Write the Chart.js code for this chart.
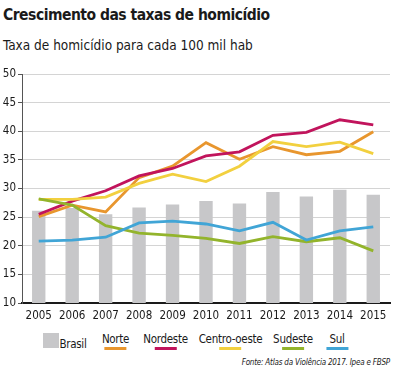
<!DOCTYPE html>
<html><head><meta charset="utf-8">
<script src="https://cdn.jsdelivr.net/npm/chart.js@4.4.1/dist/chart.umd.min.js"></script>
<style>
html,body{margin:0;padding:0;background:#fff;width:406px;height:378px;overflow:hidden;position:relative;font-family:'DejaVu Sans Condensed','Liberation Sans Narrow','Roboto',sans-serif;color:#1a1a1a}
#title{position:absolute;left:3px;top:6px;font-size:15.5px;font-weight:bold;letter-spacing:-0.5px;white-space:nowrap}
#sub{position:absolute;left:3px;top:37px;font-size:13.5px;white-space:nowrap}
#wrap{position:absolute;left:0;top:60px;width:406px;height:268px}
#legend{position:absolute;left:0;top:330px;width:406px;height:26px}
.lg{position:absolute;font-size:11.5px;top:2px;white-space:nowrap;transform:translateX(-50%);letter-spacing:-0.3px}
.lg .bar{position:absolute;left:50%;margin-left:-11px;top:15px;height:3px;width:22px}
.sq{position:absolute;width:16px;height:15px;background:#c7c7c9;top:3px}
#src{position:absolute;right:16px;top:358px;font-size:8px;font-style:italic;letter-spacing:-0.2px;white-space:nowrap}
</style></head><body>
<div id="title">Crescimento das taxas de homicídio</div>
<div id="sub">Taxa de homicídio para cada 100 mil hab</div>
<div id="wrap"><canvas id="c"></canvas></div>
<div id="legend"></div>
<div id="src">Fonte: Atlas da Violência 2017. Ipea e FBSP</div>
<script>
const years = ['2005','2006','2007','2008','2009','2010','2011','2012','2013','2014','2015'];
const brasil = [26.1,26.6,25.5,26.7,27.2,27.8,27.4,29.4,28.6,29.8,28.9];
const norte = [25.1,27.1,25.9,31.9,33.9,38.0,35.1,37.3,35.9,36.5,39.9];
const nordeste = [25.5,27.8,29.6,32.2,33.5,35.7,36.4,39.3,39.8,42.0,41.1];
const centroOeste = [28.1,28.1,28.5,30.9,32.5,31.2,33.9,38.2,37.3,38.1,36.1];
const sudeste = [28.2,27.1,23.5,22.2,21.8,21.3,20.4,21.6,20.7,21.4,19.1];
const sul = [20.8,21.0,21.5,24.0,24.3,23.8,22.6,24.1,21.0,22.6,23.3];
const yTicks = [10,15,20,25,30,35,40,45,50];

const lineSeries = [
  {label:'Norte', data:norte, color:'#e8962e'},
  {label:'Nordeste', data:nordeste, color:'#c1145c'},
  {label:'Centro-oeste', data:centroOeste, color:'#f2d03f'},
  {label:'Sudeste', data:sudeste, color:'#93b42c'},
  {label:'Sul', data:sul, color:'#41a5d6'}
];
const legendCenters = [115.5,165.5,230.5,293,337];

const datasets = [{type:'bar',label:'Brasil',data:brasil,backgroundColor:'#c7c7c9',barPercentage:0.4,categoryPercentage:1,order:10}];
lineSeries.forEach((s,i)=>datasets.push({type:'line',label:s.label,data:s.data,borderColor:s.color,backgroundColor:s.color,borderWidth:2.8,pointRadius:0,tension:0,order:5-i}));

const font = {family:"'DejaVu Sans Condensed','Liberation Sans Narrow',sans-serif", size:11.5};
new Chart(document.getElementById('c'),{
  type:'bar',
  data:{labels:years,datasets},
  options:{
    responsive:true,maintainAspectRatio:false,animation:false,
    layout:{padding:{top:14,right:16,left:0,bottom:0}},
    plugins:{legend:{display:false},tooltip:{enabled:false}},
    scales:{
      x:{grid:{display:false,drawTicks:false},border:{color:'#1a1a1a',width:2},
         ticks:{color:'#1a1a1a',font,padding:6,maxRotation:0,autoSkip:false},
         afterFit:s=>{s.height=25;}},
      y:{min:10,max:50,
         afterBuildTicks:s=>{s.ticks=yTicks.map(v=>({value:v}));},
         grid:{color:'#d4d4d4',tickColor:'#555',tickLength:4,lineWidth:1},
         border:{color:'#555',width:1},
         ticks:{color:'#1a1a1a',font,padding:2},
         afterFit:s=>{s.width=22;}}
    }
  }
});

const lg = document.getElementById('legend');
let html = '<div class="sq" style="left:43px"></div><div class="lg" style="left:73px;top:7px">Brasil</div>';
lineSeries.forEach((s,i)=>{
  html += `<div class="lg" style="left:${legendCenters[i]}px">${s.label}<div class="bar" style="background:${s.color}"></div></div>`;
});
lg.innerHTML = html;
</script>
</body></html>
